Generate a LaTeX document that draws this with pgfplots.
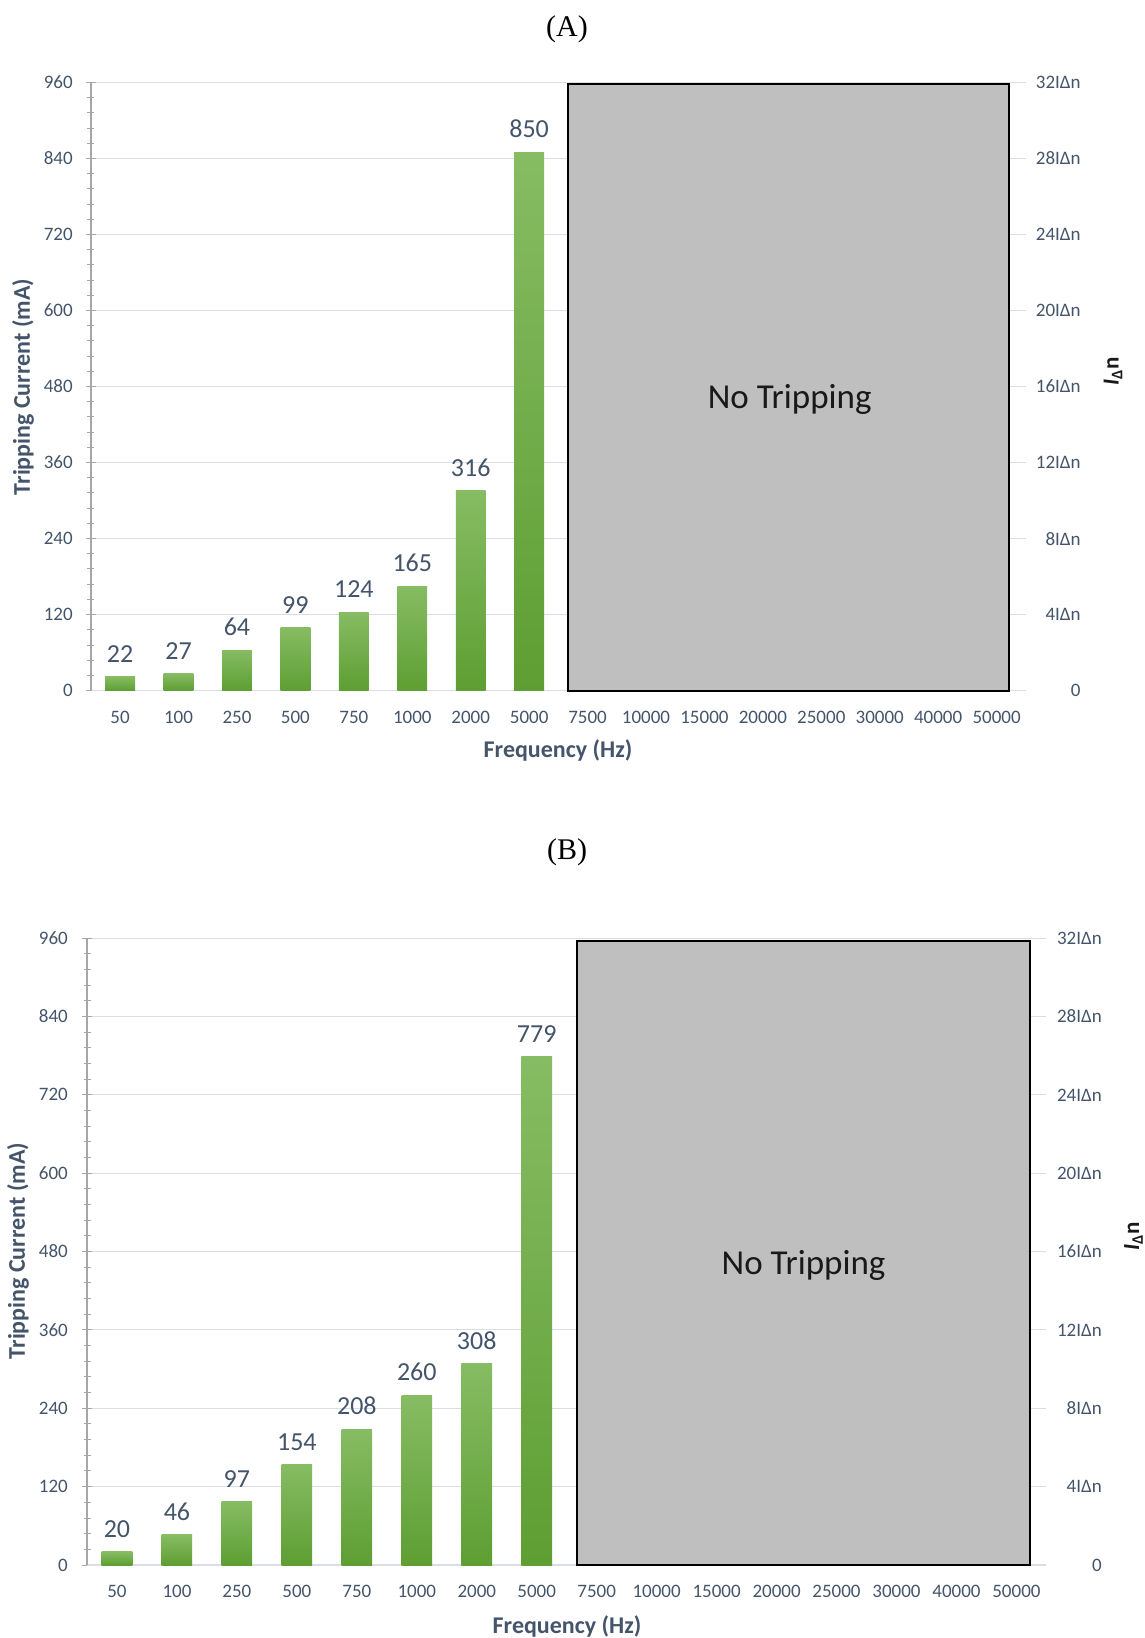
\documentclass[border=0pt]{standalone}
\usepackage{pgfplots}
\pgfplotsset{compat=1.18}
\usepackage{fontspec}
\setmainfont{Carlito}
\newfontfamily\timesfont{Liberation Serif}
\definecolor{txt}{HTML}{44546A}
\definecolor{gridc}{HTML}{D9DEE6}
\definecolor{axisc}{HTML}{A6A6A6}
\definecolor{bartop}{HTML}{86BC63}
\definecolor{barbot}{HTML}{5E9E32}
\definecolor{boxc}{HTML}{BFBFBF}

\pgfplotsset{
 leftstyle/.style={
  scale only axis,
  xmin=-0.5, xmax=15.5, ymin=0, ymax=960,
  axis y line*=left, axis x line*=bottom,
  y axis line style={draw=axisc, line width=1.2pt, -},
  x axis line style={draw=gridc, line width=1.2pt, -},
  xtick={0,...,15},
  xticklabels={50,100,250,500,750,1000,2000,5000,7500,10000,15000,20000,25000,30000,40000,50000},
  x tick style={draw=none},
  ytick={0,120,...,960},
  minor y tick num=4,
  y tick style={draw=axisc, line width=1pt},
  major tick length=10pt, minor tick length=7pt, tick align=center,
  ymajorgrids, grid style={draw=gridc, line width=1pt},
  tick label style={font=\fontsize{19}{21}\selectfont, text=txt},
  /pgf/number format/assume math mode=true,
  xticklabel style={anchor=north, inner sep=0pt, yshift=-15pt},
  clip=false,
 },
 rightstyle/.style={
  scale only axis,
  xmin=-0.5, xmax=15.5, ymin=0, ymax=960,
  hide x axis,
  axis y line*=right,
  y axis line style={draw=none},
  ytick={0,120,...,960},
  yticklabels={0,4IΔn,8IΔn,12IΔn,16IΔn,20IΔn,24IΔn,28IΔn,32IΔn},
  y tick style={draw=none},
  tick label style={font=\fontsize{19}{21}\selectfont, text=txt},
 },
 barstyle/.style={ybar, bar width=0.51, bar shift=0pt, draw=none, top color=bartop, bottom color=barbot,
  nodes near coords,
  every node near coord/.append style={font=\fontsize{26}{28}\selectfont, text=txt, anchor=south, inner sep=0pt, yshift=14pt, fill=none, shade=false}},
 boxstyle/.style={fill=boxc, draw=black, line width=2pt, mark=none},
}

\begin{document}
\begin{tikzpicture}
\path[use as bounding box] (0,0) rectangle (1144pt,-1638pt);

% ---------------- Panel A ----------------
\begin{axis}[leftstyle, at={(90.9pt,-690.6pt)}, anchor=south west,
  width=934.9pt, height=608.1pt,
  yticklabel style={anchor=east, inner sep=0pt, xshift=-13pt}]
\addplot[boxstyle] coordinates {(7.67,0) (7.67,957) (15.22,957) (15.22,0)} \closedcycle;
\addplot[barstyle] coordinates {(0,22)};
\addplot[barstyle] coordinates {(1,27)};
\addplot[barstyle] coordinates {(2,64)};
\addplot[barstyle] coordinates {(3,99)};
\addplot[barstyle] coordinates {(4,124)};
\addplot[barstyle] coordinates {(5,165)};
\addplot[barstyle] coordinates {(6,316)};
\addplot[barstyle] coordinates {(7,850)};
\node[font=\fontsize{35}{37}\selectfont, text=black!90] at (axis cs:11.46,460) {No Tripping};
\end{axis}
\begin{axis}[rightstyle, at={(90.9pt,-690.6pt)}, anchor=south west,
  width=934.9pt, height=608.1pt,
  yticklabel style={anchor=east, inner sep=0pt, xshift=55pt}]
\end{axis}
\node[font=\timesfont\fontsize{30}{32}\selectfont] at (567pt,-29pt) {(A)};
\node[font=\bfseries\fontsize{24}{26}\selectfont, text=txt, rotate=90] at (23pt,-387pt) {Tripping Current (mA)};
\node[font=\bfseries\fontsize{24}{26}\selectfont, text=txt] at (558pt,-750pt) {Frequency (Hz)};
\node[font=\bfseries\fontsize{23}{25}\selectfont, text=black!90, rotate=90] at (1113pt,-371pt) {\textit{I}\textsubscript{Δ}n};

% ---------------- Panel B ----------------
\begin{axis}[leftstyle, at={(87pt,-1565pt)}, anchor=south west,
  width=959.4pt, height=626.9pt,
  yticklabel style={anchor=east, inner sep=0pt, xshift=-14pt}]
\addplot[boxstyle] coordinates {(7.67,0) (7.67,955) (15.23,955) (15.23,0)} \closedcycle;
\addplot[barstyle] coordinates {(0,20)};
\addplot[barstyle] coordinates {(1,46)};
\addplot[barstyle] coordinates {(2,97)};
\addplot[barstyle] coordinates {(3,154)};
\addplot[barstyle] coordinates {(4,208)};
\addplot[barstyle] coordinates {(5,260)};
\addplot[barstyle] coordinates {(6,308)};
\addplot[barstyle] coordinates {(7,779)};
\node[font=\fontsize{35}{37}\selectfont, text=black!90] at (axis cs:11.45,458) {No Tripping};
\end{axis}
\begin{axis}[rightstyle, at={(87pt,-1565pt)}, anchor=south west,
  width=959.4pt, height=626.9pt,
  yticklabel style={anchor=east, inner sep=0pt, xshift=55.6pt}]
\end{axis}
\node[font=\timesfont\fontsize{30}{32}\selectfont] at (567pt,-852.5pt) {(B)};
\node[font=\bfseries\fontsize{24}{26}\selectfont, text=txt, rotate=90] at (18pt,-1251pt) {Tripping Current (mA)};
\node[font=\bfseries\fontsize{24}{26}\selectfont, text=txt] at (567pt,-1626pt) {Frequency (Hz)};
\node[font=\bfseries\fontsize{23}{25}\selectfont, text=black!90, rotate=90] at (1133.5pt,-1236pt) {\textit{I}\textsubscript{Δ}n};
\end{tikzpicture}
\end{document}
